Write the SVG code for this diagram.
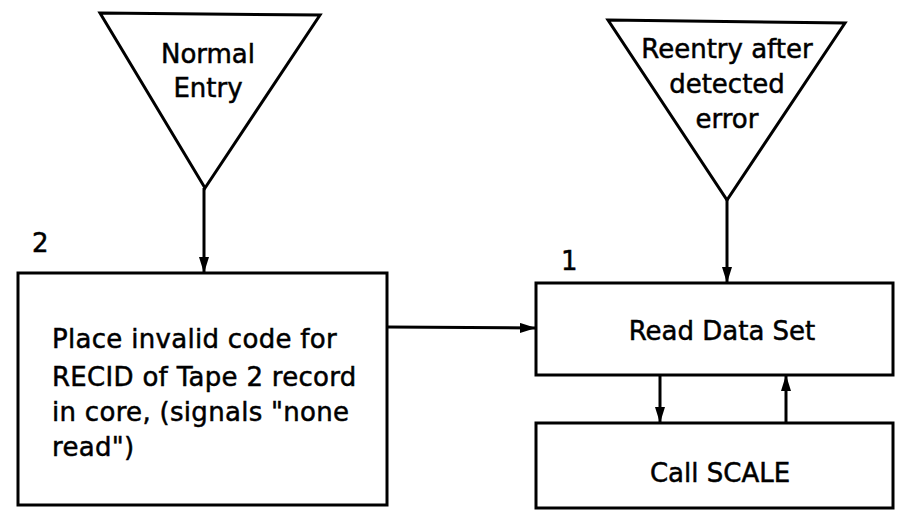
<svg xmlns="http://www.w3.org/2000/svg" width="899" height="518" viewBox="0 0 899 518">
<style>
.s{fill:none;stroke:#000;stroke-width:3;stroke-linejoin:miter}
.t{font-family:"DejaVu Sans",sans-serif;font-size:26px;fill:#000;stroke:#000;stroke-width:0.5}
.c{text-anchor:middle}
.l{letter-spacing:0.3px}
.c2{stroke:#000;stroke-width:3;fill:none}
</style>
<defs>
<marker id="ah" markerWidth="16" markerHeight="10" refX="15" refY="5" orient="auto" markerUnits="userSpaceOnUse">
<path d="M0,0 L16,5 L0,10 Z" fill="#000"/>
</marker>
</defs>
<rect width="899" height="518" fill="#fff"/>
<g id="normal-entry">
<path class="s" d="M100,13 L320,15 L205,188 Z"/>
<text class="t c" x="208" y="63">Normal</text>
<text class="t c" x="208" y="97">Entry</text>
</g>
<g id="reentry">
<path class="s" d="M608,20 L845,23 L727,200 Z"/>
<text class="t c" x="727" y="58">Reentry after</text>
<text class="t c" x="727" y="93">detected</text>
<text class="t c" x="727" y="128">error</text>
</g>
<g id="box2">
<rect class="s" x="18" y="273" width="369" height="232"/>
<text class="t" x="32" y="252">2</text>
<text class="t l" x="52" y="348">Place invalid code for</text>
<text class="t l" x="52" y="386">RECID of Tape 2 record</text>
<text class="t l" x="52" y="421">in core, (signals "none</text>
<text class="t l" x="52" y="456">read")</text>
</g>
<g id="box1">
<rect class="s" x="536" y="283" width="357" height="92"/>
<text class="t" x="561" y="270">1</text>
<text class="t c" x="722" y="340">Read Data Set</text>
</g>
<g id="call-scale">
<rect class="s" x="536" y="423" width="357" height="85"/>
<text class="t c" x="720" y="482">Call SCALE</text>
</g>
<g id="connectors">
<path class="c2" d="M204,188 L204,272" marker-end="url(#ah)"/>
<path class="c2" d="M727,200 L727,282" marker-end="url(#ah)"/>
<path class="c2" d="M387,327 L535,328" marker-end="url(#ah)"/>
<path class="c2" d="M660,375 L660,422" marker-end="url(#ah)"/>
<path class="c2" d="M786,423 L786,376" marker-end="url(#ah)"/>
</g>
</svg>
